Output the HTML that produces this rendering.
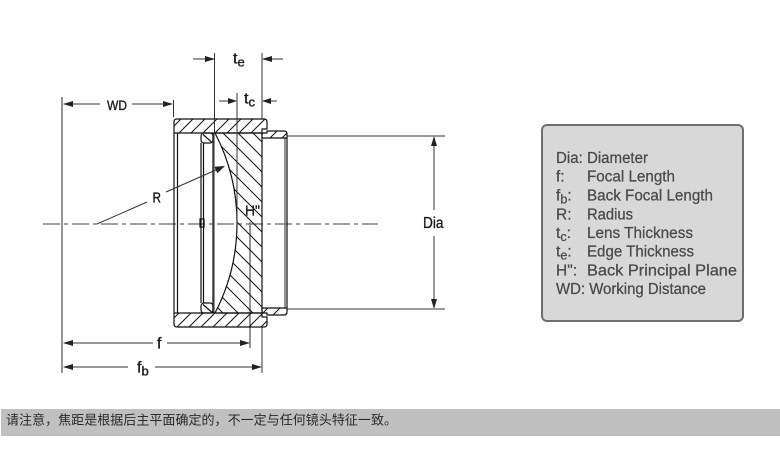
<!DOCTYPE html>
<html>
<head>
<meta charset="utf-8">
<style>
  html, body { margin: 0; padding: 0; background: #ffffff; }
  body { width: 780px; height: 450px; overflow: hidden; }
  svg { display: block; }
</style>
</head>
<body>
<svg width="780" height="450" viewBox="0 0 780 450" xmlns="http://www.w3.org/2000/svg" font-family="'Liberation Sans', 'Noto Sans CJK SC', sans-serif">
  <defs>
    <pattern id="hatchA" patternUnits="userSpaceOnUse" width="12" height="12">
      <path d="M-3,3 L3,-3 M0,12 L12,0 M9,15 L15,9" stroke="#111" stroke-width="1"/>
    </pattern>
    <pattern id="hatchB" patternUnits="userSpaceOnUse" width="15" height="15">
      <path d="M-3,12 L3,18 M0,0 L15,15 M12,-3 L18,3" stroke="#111" stroke-width="1"/>
    </pattern>
  </defs>

  <rect x="0" y="0" width="780" height="450" fill="#ffffff"/>

  <!-- centre dash-dot axis -->
  <line x1="43" y1="224" x2="378" y2="224" stroke="#666" stroke-width="1.2" stroke-dasharray="17 4 4 4"/>

  <!-- gray thick dimension/extension lines -->
  <g stroke="#7a7a7a" stroke-width="1.6" fill="none">
    <line x1="62" y1="97" x2="62" y2="373"/>
    <line x1="250" y1="222" x2="250" y2="348"/>
    <line x1="287" y1="136" x2="445" y2="136"/>
    <line x1="287" y1="309" x2="445" y2="309"/>
    <line x1="214" y1="133" x2="214" y2="313"/>
    <line x1="285" y1="138" x2="285" y2="308"/>
  </g>

  <!-- housing walls -->
  <g stroke="#111" stroke-width="1.2" fill="url(#hatchA)" stroke-linejoin="round">
    <path d="M174,133 L174,122 Q174,119 177,119 L264,119 Q267,119 267,122 L267,129 L262,129 L262,133 Z"/>
    <path d="M174,313 L174,324 Q174,327 177,327 L264,327 Q267,327 267,324 L267,317 L262,317 L262,313 Z"/>
    <path d="M262,133 L267,133 L267,131 L284,131 Q287,131 287,134 L287,138 L262,138 Z"/>
    <path d="M262,313 L267,313 L267,315 L284,315 Q287,315 287,312 L287,308 L262,308 Z"/>
  </g>

  <!-- lens -->
  <path d="M215,133 L262,133 L262,313 L215,313 A195,195 0 0 0 215,133 Z" fill="url(#hatchB)" stroke="#111" stroke-width="1.2"/>

  <!-- front face & interior lines -->
  <g stroke="#111" stroke-width="1.2" fill="none">
    <line x1="174" y1="133" x2="174" y2="313"/>
    <line x1="177.5" y1="133" x2="177.5" y2="313"/>
    <line x1="287" y1="138" x2="287" y2="308"/>
    <line x1="201" y1="143" x2="201" y2="303"/>
    <line x1="203.5" y1="143" x2="203.5" y2="303"/>
    <line x1="213" y1="133" x2="213" y2="313"/>
    <rect x="201" y="133" width="12" height="10" rx="3"/>
    <line x1="203" y1="134.5" x2="211.5" y2="142"/>
    <rect x="201" y="303" width="12" height="10" rx="3"/>
    <line x1="203" y1="304.5" x2="211.5" y2="312"/>
    <rect x="200" y="219" width="4" height="8"/>
  </g>

  <!-- thin dark dimension lines -->
  <g stroke="#333" stroke-width="1" fill="none">
    <line x1="64" y1="104" x2="100" y2="104"/>
    <line x1="132" y1="104" x2="172" y2="104"/>
    <line x1="173.5" y1="100" x2="173.5" y2="117"/>
    <line x1="193" y1="59" x2="214" y2="59"/>
    <line x1="263" y1="59" x2="283" y2="59"/>
    <line x1="214.5" y1="53" x2="214.5" y2="133"/>
    <line x1="262" y1="53" x2="262" y2="119"/>
    <line x1="262" y1="327" x2="262" y2="373"/>
    <line x1="219" y1="101" x2="236" y2="101"/>
    <line x1="263" y1="101" x2="277" y2="101"/>
    <line x1="237" y1="93" x2="237" y2="224"/>
    <line x1="64" y1="343" x2="153" y2="343"/>
    <line x1="167" y1="343" x2="249" y2="343"/>
    <line x1="64" y1="367" x2="128" y2="367"/>
    <line x1="155" y1="367" x2="261" y2="367"/>
    <line x1="434" y1="137" x2="434" y2="210"/>
    <line x1="434" y1="236" x2="434" y2="308"/>
    <line x1="97" y1="224" x2="147" y2="202"/>
    <line x1="166" y1="192" x2="217" y2="169.5"/>
  </g>

  <!-- arrowheads -->
  <g fill="#222">
    <polygon points="63,104 73,101 73,107"/>
    <polygon points="173,104 163,101 163,107"/>
    <polygon points="215,59 205,56 205,62"/>
    <polygon points="262,59 272,56 272,62"/>
    <polygon points="237,101 228,98 228,104"/>
    <polygon points="262,101 271,98 271,104"/>
    <polygon points="63,343 73,340 73,346"/>
    <polygon points="250,343 240,340 240,346"/>
    <polygon points="63,367 73,364 73,370"/>
    <polygon points="262,367 252,364 252,370"/>
    <polygon points="434,136 431,146 437,146"/>
    <polygon points="434,309 431,299 437,299"/>
    <polygon points="225,166 217.3,173.2 214.4,166.8"/>
  </g>

  <!-- diagram labels -->
  <g fill="#1a1a1a" stroke="#1a1a1a" stroke-width="0.35" font-size="15">
    <text x="107" y="110" font-size="14" textLength="20" lengthAdjust="spacingAndGlyphs">WD</text>
    <text x="152.5" y="202.5" font-size="15" textLength="8.5" lengthAdjust="spacingAndGlyphs">R</text>
    <text x="245" y="215.5" font-size="15" textLength="15" lengthAdjust="spacingAndGlyphs">H"</text>
    <text x="423" y="228" font-size="16" textLength="20.5" lengthAdjust="spacingAndGlyphs">Dia</text>
    <text x="157" y="348.5" font-size="16">f</text>
    <text x="137" y="372.5" font-size="16">f<tspan font-size="13" dy="3">b</tspan></text>
    <text x="233" y="63.5" font-size="16">t<tspan font-size="13" dy="3">e</tspan></text>
    <text x="244" y="103.5" font-size="16">t<tspan font-size="13" dy="3">c</tspan></text>
  </g>

  <!-- legend box -->
  <rect x="542" y="125" width="201" height="196" rx="5" fill="#d8d8d8" stroke="#6e6e6e" stroke-width="2"/>
  <g fill="#4a4a4a" stroke="#4a4a4a" stroke-width="0.25" font-size="15.5">
    <text x="556" y="163" textLength="92" lengthAdjust="spacingAndGlyphs">Dia: Diameter</text>

    <text x="556" y="181.5">f:</text>
    <text x="587" y="181.5" textLength="88" lengthAdjust="spacingAndGlyphs">Focal Length</text>

    <text x="556" y="200.5">f<tspan font-size="12.5" dy="3">b</tspan><tspan dy="-3">:</tspan></text>
    <text x="587" y="200.5" textLength="126" lengthAdjust="spacingAndGlyphs">Back Focal Length</text>

    <text x="556" y="219.5">R:</text>
    <text x="587" y="219.5" textLength="46" lengthAdjust="spacingAndGlyphs">Radius</text>

    <text x="556" y="238">t<tspan font-size="12.5" dy="3">c</tspan><tspan dy="-3">:</tspan></text>
    <text x="587" y="238" textLength="106" lengthAdjust="spacingAndGlyphs">Lens Thickness</text>

    <text x="556" y="256.5">t<tspan font-size="12.5" dy="3">e</tspan><tspan dy="-3">:</tspan></text>
    <text x="587" y="256.5" textLength="107" lengthAdjust="spacingAndGlyphs">Edge Thickness</text>

    <text x="556" y="275.5">H":</text>
    <text x="587" y="275.5" textLength="150" lengthAdjust="spacingAndGlyphs">Back Principal Plane</text>

    <text x="556" y="294" textLength="150" lengthAdjust="spacingAndGlyphs">WD: Working Distance</text>
  </g>

  <!-- bottom note bar -->
  <rect x="1" y="409" width="779" height="27" fill="#c0c0c0"/>
  <text x="6" y="424.5" font-size="13" fill="#2a2a2a" font-family="'Liberation Sans', 'Noto Sans CJK SC', sans-serif" textLength="391" lengthAdjust="spacing">请注意，焦距是根据后主平面确定的，不一定与任何镜头特征一致。</text>
</svg>
</body>
</html>
